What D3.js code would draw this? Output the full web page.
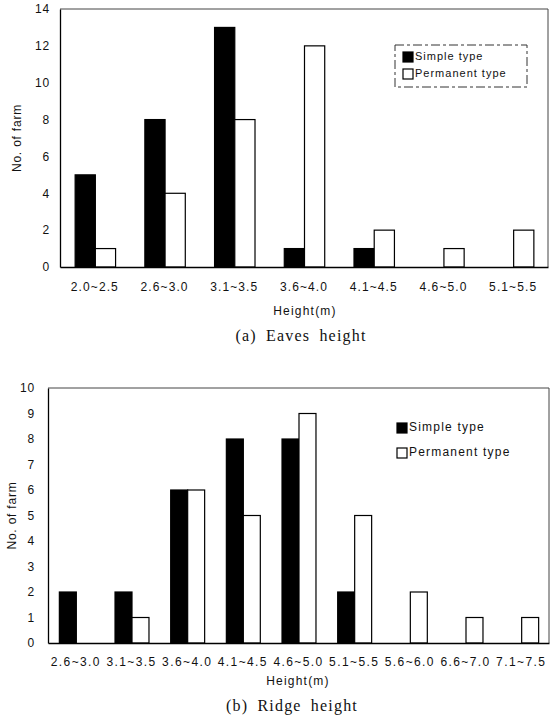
<!DOCTYPE html>
<html>
<head>
<meta charset="utf-8">
<script src="https://cdn.jsdelivr.net/npm/d3@7"></script>
<style>
  html, body { margin: 0; padding: 0; background: #fff; }
  svg { display: block; }
  .tick-label { font-family: "Liberation Sans", Arial, sans-serif; fill: #111; }
  .caption { font-family: "Liberation Serif", "Times New Roman", serif; fill: #111; }
</style>
</head>
<body>
<svg id="chart" width="555" height="720"></svg>
<script>
// ---------- Data ----------
const eavesCategories = ["2.0~2.5", "2.6~3.0", "3.1~3.5", "3.6~4.0", "4.1~4.5", "4.6~5.0", "5.1~5.5"];
const eavesSimple     = [5, 8, 13, 1, 1, 0, 0];
const eavesPermanent  = [1, 4, 8, 12, 2, 1, 2];
const eavesYTicks     = [0, 2, 4, 6, 8, 10, 12, 14];

const ridgeCategories = ["2.6~3.0", "3.1~3.5", "3.6~4.0", "4.1~4.5", "4.6~5.0", "5.1~5.5", "5.6~6.0", "6.6~7.0", "7.1~7.5"];
const ridgeSimple     = [2, 2, 6, 8, 8, 2, 0, 0, 0];
const ridgePermanent  = [0, 1, 6, 5, 9, 5, 2, 1, 1];
const ridgeYTicks     = [0, 1, 2, 3, 4, 5, 6, 7, 8, 9, 10];

const seriesNames = ["Simple type", "Permanent type"];
const seriesFill  = ["#000000", "#ffffff"];

const svg = d3.select("#chart");

function drawChart(o) {
  const g = svg.append("g");
  const x = d3.scaleBand().domain(o.categories).range([o.left, o.right])
    .paddingInner(o.padInner).paddingOuter(o.padInner / 2);
  const xs = d3.scaleBand().domain(seriesNames).range([0, x.bandwidth()]);
  const y = d3.scaleLinear().domain([0, o.yMax]).range([o.bottom, o.top]);

  // frame (top/right)
  g.append("path")
    .attr("d", `M${o.left},${o.top}H${o.right}V${o.bottom}`)
    .attr("fill", "none").attr("stroke", "#444").attr("stroke-width", 1);

  // bars
  const rows = o.categories.map((c, i) => ({ c, vals: [o.simple[i], o.permanent[i]] }));
  const grp = g.selectAll("g.cat").data(rows).join("g")
    .attr("transform", d => `translate(${x(d.c)},0)`);
  grp.selectAll("rect").data(d => d.vals.map((v, k) => ({ v, k })).filter(e => e.v > 0))
    .join("rect")
    .attr("x", e => xs(seriesNames[e.k]) + 0.5)
    .attr("width", xs.bandwidth())
    .attr("y", e => y(e.v))
    .attr("height", e => y(0) - y(e.v))
    .attr("fill", e => seriesFill[e.k])
    .attr("stroke", "#000").attr("stroke-width", 1.2);

  // y axis
  const yAxis = d3.axisLeft(y).tickValues(o.yTicks).tickSize(0).tickPadding(o.yPad);
  const ya = g.append("g").attr("transform", `translate(${o.left},0)`).call(yAxis);
  ya.select(".domain").attr("stroke", "#000").attr("stroke-width", 1.3);
  ya.selectAll("text").attr("class", "tick-label").style("font-size", o.tickFont + "px")
    .style("letter-spacing", o.ySpacing + "px");

  // x axis
  const xAxis = d3.axisBottom(x).tickSize(0).tickPadding(o.xPad);
  const xa = g.append("g").attr("transform", `translate(0,${o.bottom})`).call(xAxis);
  xa.select(".domain").attr("stroke", "#000").attr("stroke-width", 1.3);
  xa.selectAll("text").attr("class", "tick-label").style("font-size", o.tickFont + "px")
    .style("letter-spacing", o.xSpacing + "px");

  // axis titles
  g.append("text").attr("class", "tick-label")
    .attr("transform", `translate(${o.yTitleX},${(o.top + o.bottom) / 2}) rotate(-90)`)
    .attr("text-anchor", "middle").attr("dominant-baseline", "middle")
    .style("font-size", "12px").style("letter-spacing", "0.8px")
    .text("No. of farm");
  g.append("text").attr("class", "tick-label")
    .attr("x", o.xTitleX).attr("y", o.xTitleY)
    .attr("text-anchor", "middle").attr("dominant-baseline", "middle")
    .style("font-size", "12px").style("letter-spacing", "1.2px")
    .text("Height(m)");
  g.append("text").attr("class", "caption")
    .attr("x", o.capX).attr("y", o.capY)
    .attr("text-anchor", "middle").attr("dominant-baseline", "middle")
    .style("font-size", "16px").style("letter-spacing", "1.2px").style("word-spacing", "4px")
    .text(o.caption);

  // legend
  const L = o.legend;
  if (L.box) {
    g.append("rect").attr("x", L.box[0]).attr("y", L.box[1])
      .attr("width", L.box[2]).attr("height", L.box[3])
      .attr("fill", "none").attr("stroke", "#333").attr("stroke-width", 1)
      .attr("stroke-dasharray", "9,3,3,3");
  }
  seriesNames.forEach((name, k) => {
    const cy = L.y[k];
    g.append("rect").attr("x", L.x).attr("y", cy - L.sq / 2)
      .attr("width", L.sq).attr("height", L.sq)
      .attr("fill", seriesFill[k]).attr("stroke", "#000").attr("stroke-width", 1.2);
    g.append("text").attr("class", "tick-label")
      .attr("x", L.x + L.sq + 2).attr("y", cy)
      .attr("dominant-baseline", "middle")
      .style("font-size", L.font + "px").style("letter-spacing", L.spacing + "px")
      .text(name);
  });
}

drawChart({
  categories: eavesCategories, simple: eavesSimple, permanent: eavesPermanent,
  yTicks: eavesYTicks, yMax: 14,
  left: 60, right: 548, top: 9, bottom: 267, padInner: 0.42,
  tickFont: 12, xSpacing: 1.1, ySpacing: 0.8, yPad: 10, xPad: 15,
  yTitleX: 18, xTitleX: 305, xTitleY: 312,
  caption: "(a) Eaves height", capX: 301, capY: 337,
  legend: { box: [395, 45, 132, 42], x: 403, sq: 10, y: [57, 74], font: 11, spacing: 1 }
});

drawChart({
  categories: ridgeCategories, simple: ridgeSimple, permanent: ridgePermanent,
  yTicks: ridgeYTicks, yMax: 10,
  left: 48, right: 549, top: 388, bottom: 643, padInner: 0.39,
  tickFont: 12, xSpacing: 1.4, ySpacing: 0.8, yPad: 13, xPad: 14,
  yTitleX: 13, xTitleX: 298, xTitleY: 682,
  caption: "(b) Ridge height", capX: 292, capY: 707,
  legend: { box: null, x: 397, sq: 10, y: [428, 453], font: 12, spacing: 1.2 }
});
</script>
</body>
</html>
